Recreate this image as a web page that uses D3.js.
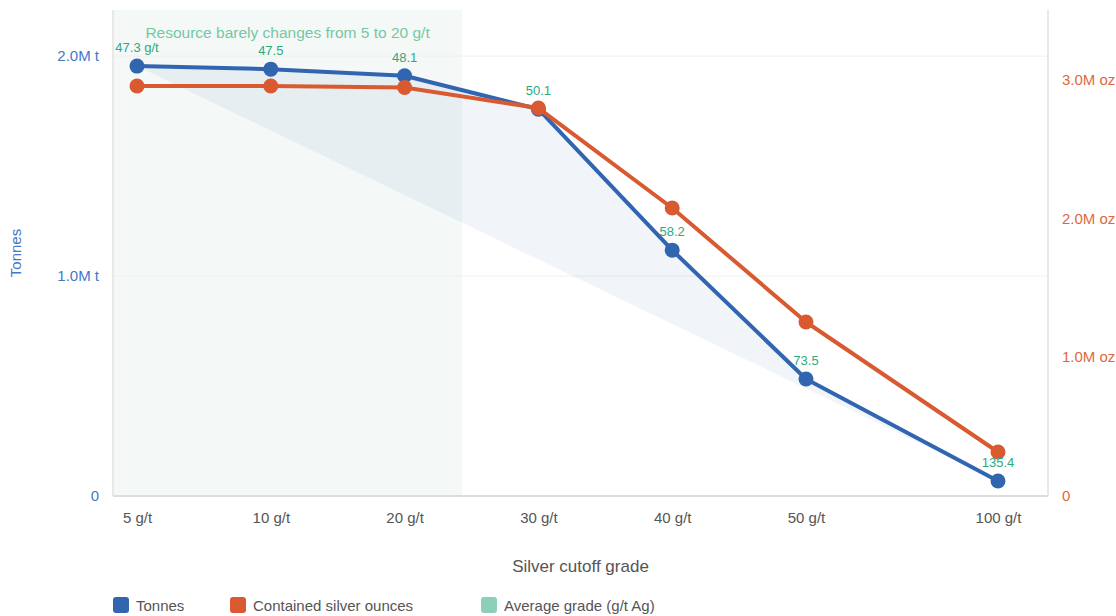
<!DOCTYPE html>
<meta charset="utf-8">
<head>
    <title>Silver cutoff grade</title>
</head>
<style>
    body { margin: 0; background: #fff; font-family: "Liberation Sans", Arial, sans-serif; }
    .tick line { display: none; }
    .domain { display: none; }
</style>
<div id="chart_div"></div>
<script src="https://d3js.org/d3.v7.min.js"></script>
<script>
    // values
    var grades = ["5 g/t", "10 g/t", "20 g/t", "30 g/t", "40 g/t", "50 g/t", "100 g/t"];
    var tonnes = [1955000, 1941000, 1911000, 1759000, 1118000, 532000, 68000];
    var ounces = [2953000, 2953000, 2942000, 2794000, 2074000, 1253000, 317000];
    var avgGrade = ["47.3 g/t", "47.5", "48.1", "50.1", "58.2", "73.5", "135.4"];
    var tonneTicks = [0, 1000000, 2000000];
    var ounceTicks = [0, 1000000, 2000000, 3000000];

    var blue = "#3265b0", orange = "#d95a30", green = "#2fa87e";

    var W = 1116, H = 616;
    var pLeft = 113, pRight = 1048, pTop = 10, pBottom = 496;

    var svg = d3.select("#chart_div")
      .append("svg")
        .attr("width", W)
        .attr("height", H);

    // 100 g/t sits further out than the even steps
    var x = d3.scaleLinear()
      .domain([0, 5, 6])
      .range([137, 806, 998]);
    var yT = d3.scaleLinear().domain([0, 2210000]).range([pBottom, pTop]);
    var yO = d3.scaleLinear().domain([0, 3500000]).range([pBottom, pTop]);

    // highlighted range 5 - 20 g/t
    svg.append("rect")
        .attr("x", pLeft)
        .attr("y", pTop)
        .attr("width", x(2.43) - pLeft)
        .attr("height", pBottom - pTop)
        .attr("fill", "#f4f8f7");

    // grid lines
    svg.append("g").selectAll("line")
      .data(tonneTicks.slice(1))
      .enter().append("line")
        .attr("x1", pLeft).attr("x2", pRight)
        .attr("y1", function(d) { return yT(d); })
        .attr("y2", function(d) { return yT(d); })
        .attr("stroke", "#f0f0f0");

    // frame lines
    svg.append("line").attr("x1", pLeft).attr("x2", pLeft).attr("y1", pTop).attr("y2", pBottom)
        .attr("stroke", "#e2e2e2").attr("stroke-width", 1.5);
    svg.append("line").attr("x1", pRight).attr("x2", pRight).attr("y1", pTop).attr("y2", pBottom)
        .attr("stroke", "#e2e2e2").attr("stroke-width", 1.5);
    svg.append("line").attr("x1", pLeft).attr("x2", pRight).attr("y1", pBottom).attr("y2", pBottom)
        .attr("stroke", "#dddddd").attr("stroke-width", 2);

    // shaded area between tonnes line and chord first -> last
    var last = tonnes.length - 1;
    var area = d3.area()
      .x(function(d, i) { return x(i); })
      .y0(function(d, i) { return yT(tonnes[0] + (tonnes[last] - tonnes[0]) * (x(i) - x(0)) / (x(last) - x(0))); })
      .y1(function(d) { return yT(d); });
    svg.append("path")
        .datum(tonnes)
        .attr("d", area)
        .attr("fill", blue)
        .attr("fill-opacity", 0.065);

    // axes
    var yAxisL = svg.append("g")
        .attr("transform", "translate(" + (pLeft - 10) + ",0)")
        .call(d3.axisLeft(yT).tickValues(tonneTicks)
          .tickFormat(function(d) { return d === 0 ? "0" : (d / 1e6).toFixed(1) + "M t"; }));
    yAxisL.selectAll("text").attr("fill", "#4677c4").style("font-size", "15px")
        .attr("x", -4).attr("font-family", "Liberation Sans, Arial, sans-serif");

    var yAxisR = svg.append("g")
        .attr("transform", "translate(" + (pRight + 10) + ",0)")
        .call(d3.axisRight(yO).tickValues(ounceTicks)
          .tickFormat(function(d) { return d === 0 ? "0" : (d / 1e6).toFixed(1) + "M oz"; }));
    yAxisR.selectAll("text").attr("fill", "#e2683c").style("font-size", "15px")
        .attr("x", 4).attr("font-family", "Liberation Sans, Arial, sans-serif");

    var xAxis = svg.append("g")
        .attr("transform", "translate(0," + (pBottom + 10) + ")")
        .call(d3.axisBottom(x).tickValues(d3.range(grades.length))
          .tickFormat(function(i) { return grades[i]; }));
    xAxis.selectAll("text").attr("fill", "#555").style("font-size", "15px")
        .attr("y", 6).attr("font-family", "Liberation Sans, Arial, sans-serif");

    svg.append("text")
        .attr("text-anchor", "middle")
        .attr("transform", "translate(21," + (pTop + pBottom) / 2 + ") rotate(-90)")
        .attr("fill", "#4677c4")
        .style("font-size", "15px")
        .text("Tonnes");

    svg.append("text")
        .attr("text-anchor", "middle")
        .attr("x", (pLeft + pRight) / 2)
        .attr("y", 572)
        .attr("fill", "#555")
        .style("font-size", "17px")
        .text("Silver cutoff grade");

    svg.append("text")
        .attr("text-anchor", "middle")
        .attr("x", (pLeft + x(2.43)) / 2)
        .attr("y", 38)
        .attr("fill", "#74c8a4")
        .style("font-size", "15.5px")
        .text("Resource barely changes from 5 to 20 g/t");

    // lines + points
    function series(vals, yScale, color) {
      var line = d3.line()
        .x(function(d, i) { return x(i); })
        .y(function(d) { return yScale(d); });
      svg.append("path")
          .datum(vals)
          .attr("d", line)
          .attr("fill", "none")
          .attr("stroke", color)
          .attr("stroke-width", 4)
          .attr("stroke-linejoin", "round");
      svg.append("g").selectAll("circle")
        .data(vals)
        .enter().append("circle")
          .attr("cx", function(d, i) { return x(i); })
          .attr("cy", function(d) { return yScale(d); })
          .attr("r", 7.5)
          .attr("fill", color);
    }
    series(tonnes, yT, blue);
    series(ounces, yO, orange);

    // average grade labels
    svg.append("g").selectAll("text")
      .data(avgGrade)
      .enter().append("text")
        .attr("x", function(d, i) { return x(i); })
        .attr("y", function(d, i) { return yT(tonnes[i]) - 14; })
        .attr("text-anchor", "middle")
        .attr("fill", green)
        .style("font-size", "13px")
        .text(function(d) { return d; });

    // legend
    var legend = [
      {name: "Tonnes", color: blue, x: 113},
      {name: "Contained silver ounces", color: orange, x: 230},
      {name: "Average grade (g/t Ag)", color: "#8ecfb9", x: 481}
    ];
    var lg = svg.append("g").selectAll("g")
      .data(legend)
      .enter().append("g")
        .attr("transform", function(d) { return "translate(" + d.x + ",597)"; });
    lg.append("rect")
        .attr("width", 16).attr("height", 16).attr("rx", 3)
        .attr("fill", function(d) { return d.color; });
    lg.append("text")
        .attr("x", 23).attr("y", 14)
        .attr("fill", "#555")
        .style("font-size", "15px")
        .text(function(d) { return d.name; });
</script>
